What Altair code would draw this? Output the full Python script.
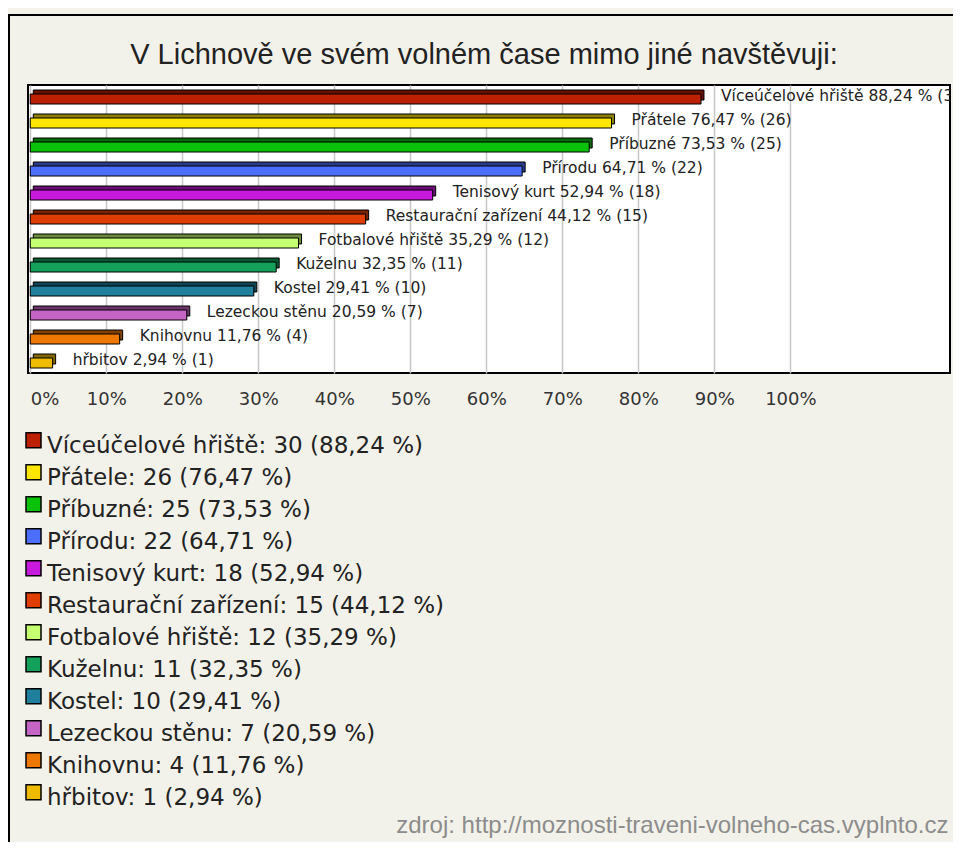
import altair as alt
import pandas as pd

# ---- data ----
names = ["Víceúčelové hřiště", "Přátele", "Příbuzné", "Přírodu", "Tenisový kurt",
         "Restaurační zařízení", "Fotbalové hřiště", "Kuželnu", "Kostel",
         "Lezeckou stěnu", "Knihovnu", "hřbitov"]
counts = [30, 26, 25, 22, 18, 15, 12, 11, 10, 7, 4, 1]
percents = [88.24, 76.47, 73.53, 64.71, 52.94, 44.12, 35.29, 32.35, 29.41, 20.59, 11.76, 2.94]
colors = ["#BC2000", "#FFE600", "#0BC20B", "#4C6EFF", "#C81ADC", "#E03E00",
          "#C4FF72", "#12A05A", "#1F7F9C", "#C464C4", "#EE7700", "#EEBB00"]
tick_values = [0, 10, 20, 30, 40, 50, 60, 70, 80, 90, 100]

title_text = "V Lichnově ve svém volném čase mimo jiné navštěvuji:"
source_text = "zdroj: http://moznosti-traveni-volneho-cas.vyplnto.cz"


def darken(h, f=0.55):
    r, g, b = int(h[1:3], 16), int(h[3:5], 16), int(h[5:7], 16)
    return "#%02x%02x%02x" % (int(r * f), int(g * f), int(b * f))


def fmt(p):
    return f"{p:.2f}".replace(".", ",")


dark_colors = [darken(c) for c in colors]
legend_labels = [f"{n}: {c} ({fmt(p)} %)" for n, c, p in zip(names, counts, percents)]
bar_labels = [f"{n} {fmt(p)} % ({c})" for n, c, p in zip(names, counts, percents)]

df = pd.DataFrame({
    "name": names,
    "count": counts,
    "pct": percents,
    "legend": legend_labels,
    "label": bar_labels,
})

W, H = 922, 288
xscale = alt.Scale(domain=[-0.3, 121], nice=False)
yenc = alt.Y("name:N", sort=names, axis=None,
             scale=alt.Scale(paddingInner=0, paddingOuter=0))

xaxis = alt.Axis(
    values=tick_values, labelExpr="datum.value + '%'",
    grid=True, gridColor="#c8c8c8", gridWidth=1.5,
    domain=False, ticks=False, labelPadding=17,
    labelFont="DejaVu Sans", labelFontSize=18, labelColor="#333333",
    labelFlush=3, labelFlushOffset=0,
    title=source_text, titleX=920, titleY=459, titleAlign="right",
    titleBaseline="alphabetic", titleFont="Liberation Sans", titleFontSize=24,
    titleFontWeight="normal", titleColor="#8c8c8c",
)

back = alt.Chart(df).mark_bar(
    height=10, xOffset=3, x2Offset=3, yOffset=-2, stroke="black", strokeWidth=1
).encode(
    x=alt.X("pct:Q", scale=xscale, axis=xaxis),
    x2=alt.datum(0),
    y=yenc,
    color=alt.Color("legend:N", scale=alt.Scale(domain=legend_labels, range=dark_colors), legend=None),
)

front = alt.Chart(df).mark_bar(
    height=10, yOffset=2, stroke="black", strokeWidth=1
).encode(
    x=alt.X("pct:Q", scale=xscale, axis=xaxis),
    x2=alt.datum(0),
    y=yenc,
    color=alt.Color(
        "legend:N",
        scale=alt.Scale(domain=legend_labels, range=colors),
        legend=alt.Legend(
            title=None, orient="none", direction="vertical",
            legendX=-6, legendY=349, padding=0,
            symbolType="M-1,-1.7H1V0.3H-1Z", symbolSize=225,
            symbolStrokeColor="black", symbolStrokeWidth=1.5, symbolOpacity=1,
            labelFont="DejaVu Sans", labelFontSize=23, labelColor="#222222",
            labelLimit=0, rowPadding=3.0, labelOffset=2,
        ),
    ),
)

labels = alt.Chart(df).mark_text(
    align="left", baseline="middle", dx=20, dy=-1,
    font="DejaVu Sans", fontSize=15.5, color="#222222", clip=True,
).encode(
    x=alt.X("pct:Q", scale=xscale),
    y=yenc,
    text="label:N",
)

# decorative outer frame border (left and top)
frame_df = pd.DataFrame({"k": [0]})
frame_left = alt.Chart(frame_df).mark_rule(color="black", strokeWidth=2).encode(
    x=alt.value(-19), y=alt.value(-70), y2=alt.value(770))
frame_top = alt.Chart(frame_df).mark_rule(color="black", strokeWidth=2).encode(
    x=alt.value(-20), x2=alt.value(935), y=alt.value(-70))

chart = alt.layer(frame_left, frame_top, back, front, labels).resolve_scale(
    color="independent"
).properties(
    width=W, height=H,
    autosize=alt.AutoSizeParams(type="none"),
    padding={"left": 20, "top": 77, "right": 3, "bottom": 469},
    background="#f3f2ea",
    title=alt.TitleParams(
        text=title_text, font="Liberation Sans", fontSize=29, fontWeight="normal",
        color="#222222", anchor="middle", frame="group", offset=0, dy=79,
        baseline="alphabetic", dx=-5,
    ),
).configure_view(stroke="black", strokeWidth=2, fill="white")

chart.save("out.html", embed_options={"renderer": "svg", "actions": False})
